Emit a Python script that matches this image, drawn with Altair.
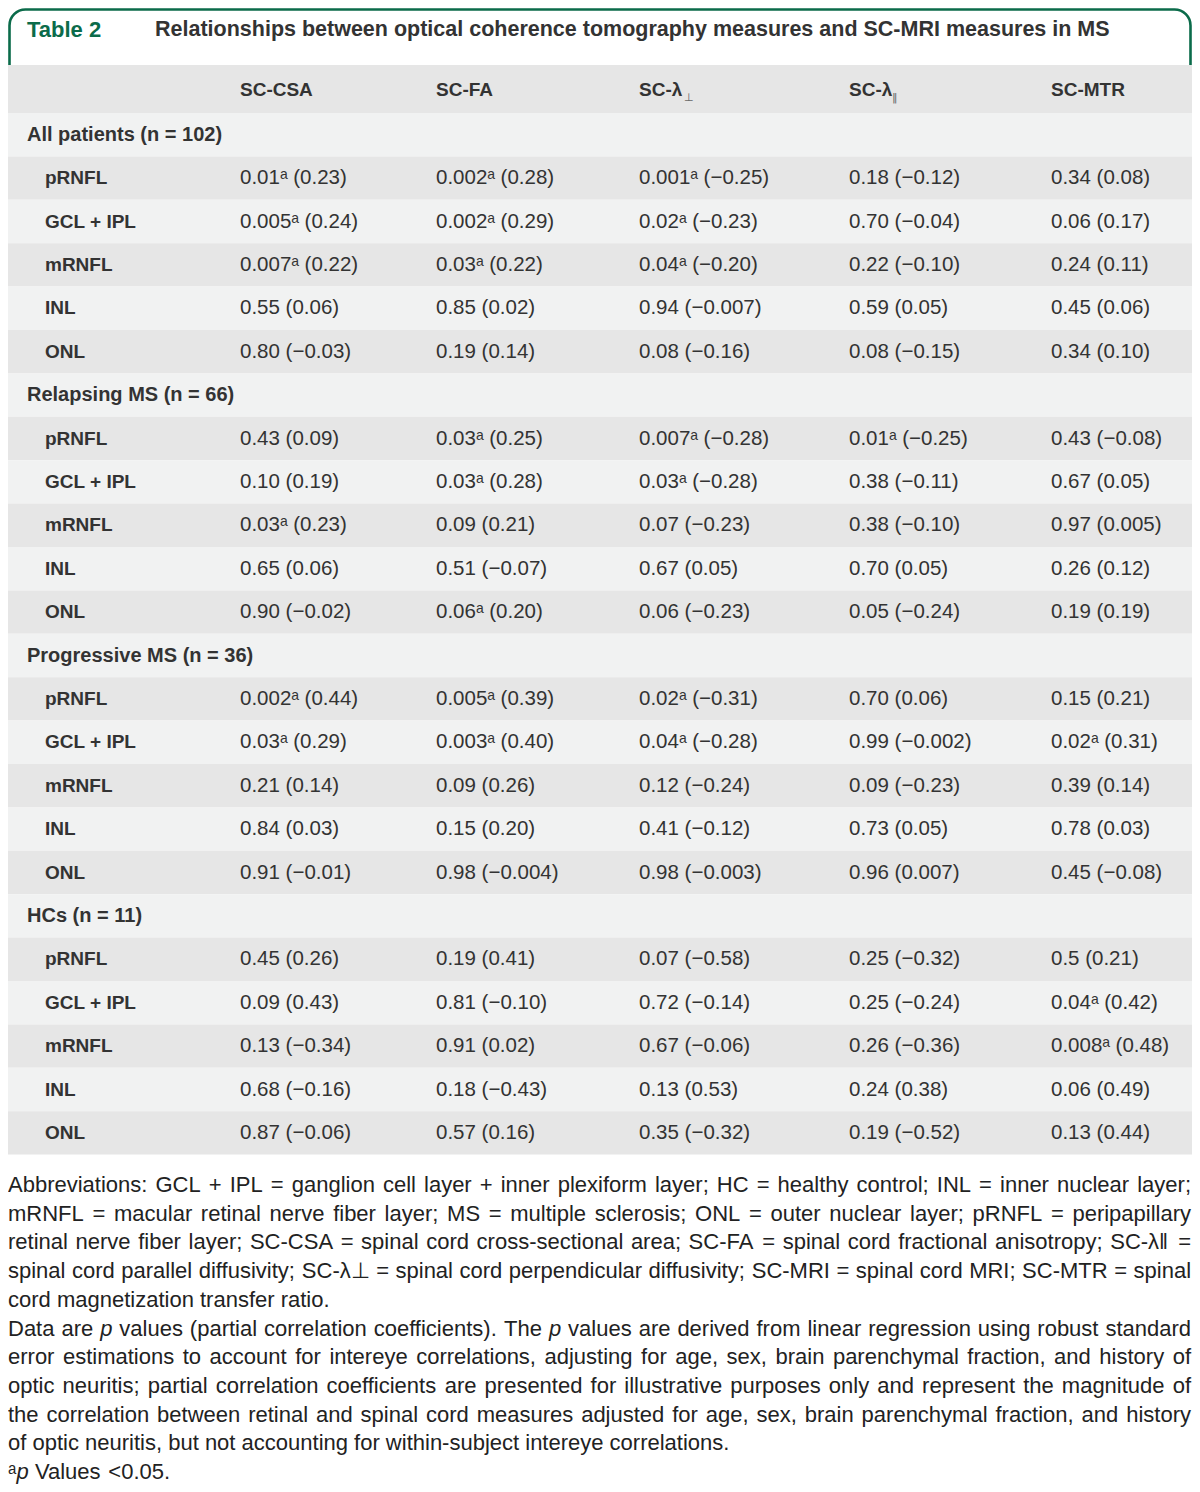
import re
import altair as alt
import pandas as pd

# ---------------- data ----------------
title_tag = "Table 2"
title_text = "Relationships between optical coherence tomography measures and SC-MRI measures in MS"

col_heads = ["SC-CSA", "SC-FA", "SC-λ", "SC-λ", "SC-MTR"]
col_subs = ["", "", "⊥", "‖", ""]

groups = ["All patients (n = 102)", "Relapsing MS (n = 66)",
          "Progressive MS (n = 36)", "HCs (n = 11)"]
measures = ["pRNFL", "GCL + IPL", "mRNFL", "INL", "ONL"]

sc_csa = ["0.01ᵃ (0.23)", "0.005ᵃ (0.24)", "0.007ᵃ (0.22)", "0.55 (0.06)", "0.80 (−0.03)",
          "0.43 (0.09)", "0.10 (0.19)", "0.03ᵃ (0.23)", "0.65 (0.06)", "0.90 (−0.02)",
          "0.002ᵃ (0.44)", "0.03ᵃ (0.29)", "0.21 (0.14)", "0.84 (0.03)", "0.91 (−0.01)",
          "0.45 (0.26)", "0.09 (0.43)", "0.13 (−0.34)", "0.68 (−0.16)", "0.87 (−0.06)"]
sc_fa = ["0.002ᵃ (0.28)", "0.002ᵃ (0.29)", "0.03ᵃ (0.22)", "0.85 (0.02)", "0.19 (0.14)",
         "0.03ᵃ (0.25)", "0.03ᵃ (0.28)", "0.09 (0.21)", "0.51 (−0.07)", "0.06ᵃ (0.20)",
         "0.005ᵃ (0.39)", "0.003ᵃ (0.40)", "0.09 (0.26)", "0.15 (0.20)", "0.98 (−0.004)",
         "0.19 (0.41)", "0.81 (−0.10)", "0.91 (0.02)", "0.18 (−0.43)", "0.57 (0.16)"]
sc_lperp = ["0.001ᵃ (−0.25)", "0.02ᵃ (−0.23)", "0.04ᵃ (−0.20)", "0.94 (−0.007)", "0.08 (−0.16)",
            "0.007ᵃ (−0.28)", "0.03ᵃ (−0.28)", "0.07 (−0.23)", "0.67 (0.05)", "0.06 (−0.23)",
            "0.02ᵃ (−0.31)", "0.04ᵃ (−0.28)", "0.12 (−0.24)", "0.41 (−0.12)", "0.98 (−0.003)",
            "0.07 (−0.58)", "0.72 (−0.14)", "0.67 (−0.06)", "0.13 (0.53)", "0.35 (−0.32)"]
sc_lpar = ["0.18 (−0.12)", "0.70 (−0.04)", "0.22 (−0.10)", "0.59 (0.05)", "0.08 (−0.15)",
           "0.01ᵃ (−0.25)", "0.38 (−0.11)", "0.38 (−0.10)", "0.70 (0.05)", "0.05 (−0.24)",
           "0.70 (0.06)", "0.99 (−0.002)", "0.09 (−0.23)", "0.73 (0.05)", "0.96 (0.007)",
           "0.25 (−0.32)", "0.25 (−0.24)", "0.26 (−0.36)", "0.24 (0.38)", "0.19 (−0.52)"]
sc_mtr = ["0.34 (0.08)", "0.06 (0.17)", "0.24 (0.11)", "0.45 (0.06)", "0.34 (0.10)",
          "0.43 (−0.08)", "0.67 (0.05)", "0.97 (0.005)", "0.26 (0.12)", "0.19 (0.19)",
          "0.15 (0.21)", "0.02ᵃ (0.31)", "0.39 (0.14)", "0.78 (0.03)", "0.45 (−0.08)",
          "0.5 (0.21)", "0.04ᵃ (0.42)", "0.008ᵃ (0.48)", "0.06 (0.49)", "0.13 (0.44)"]
value_cols = [sc_csa, sc_fa, sc_lperp, sc_lpar, sc_mtr]

# *...* marks italic text; justify flag as in the printed note
footnotes = [
    "Abbreviations: GCL + IPL = ganglion cell layer + inner plexiform layer; HC = healthy control; INL = inner nuclear layer;",
    "mRNFL = macular retinal nerve fiber layer; MS = multiple sclerosis; ONL = outer nuclear layer; pRNFL = peripapillary",
    "retinal nerve fiber layer; SC-CSA = spinal cord cross-sectional area; SC-FA = spinal cord fractional anisotropy; SC-λ‖ =",
    "spinal cord parallel diffusivity; SC-λ⊥ = spinal cord perpendicular diffusivity; SC-MRI = spinal cord MRI; SC-MTR = spinal",
    "cord magnetization transfer ratio.",
    "Data are *p* values (partial correlation coefficients). The *p* values are derived from linear regression using robust standard",
    "error estimations to account for intereye correlations, adjusting for age, sex, brain parenchymal fraction, and history of",
    "optic neuritis; partial correlation coefficients are presented for illustrative purposes only and represent the magnitude of",
    "the correlation between retinal and spinal cord measures adjusted for age, sex, brain parenchymal fraction, and history",
    "of optic neuritis, but not accounting for within-subject intereye correlations.",
    "ᵃ*p* Values <0.05.",
]
foot_justify = [True, True, True, True, False, True, True, True, True, False, False]

# ---------------- layout (page pixel space; page margin is 8px) ----------------
MARGIN = 8
W, H = 1184, 1476
GREEN = "#0b6b4a"
TXT = "#333333"
DARK = "#e6e6e6"
LIGHT = "#f1f2f2"
FONT = "Liberation Sans"

LEFT, RIGHT = MARGIN, MARGIN + W
HEAD_TOP, BODY_TOP, ROW_H = 65, 113, 43.4
col_x = [240, 436, 639, 849, 1051]
FOOT_Y0, FOOT_DY, FOOT_SIZE = 1185, 28.7, 22

# Liberation Sans (Arial-metric) advance widths, per 1000 em
_AW = {" ": 278, "!": 278, "(": 333, ")": 333, "+": 584, ",": 278, "-": 333, ".": 278,
       "/": 278, ":": 278, ";": 278, "<": 584, "=": 584, ">": 584,
       "A": 667, "B": 667, "C": 722, "D": 722, "E": 667, "F": 611, "G": 778, "H": 722,
       "I": 278, "J": 500, "K": 667, "L": 556, "M": 833, "N": 722, "O": 778, "P": 667,
       "Q": 778, "R": 722, "S": 667, "T": 611, "U": 722, "V": 667, "W": 944, "X": 667,
       "Y": 667, "Z": 611, "a": 556, "b": 556, "c": 500, "d": 556, "e": 556, "f": 278,
       "g": 556, "h": 556, "i": 222, "j": 222, "k": 500, "l": 222, "m": 833, "n": 556,
       "o": 556, "p": 556, "q": 556, "r": 333, "s": 500, "t": 278, "u": 556, "v": 500,
       "w": 722, "x": 500, "y": 500, "z": 500, "λ": 520, "‖": 500, "⊥": 838, "ᵃ": 390}


def text_w(s, size):
    return sum(_AW.get(ch, 556) for ch in s) / 1000.0 * size


# data coordinates are page pixels; the chart origin sits at the page margin
xs = alt.Scale(domain=[MARGIN, MARGIN + W], range=[0, W], nice=False, zero=False)
ys = alt.Scale(domain=[MARGIN, MARGIN + H], range=[0, H], nice=False, zero=False)


def X(f):
    return alt.X(f, type="quantitative", scale=xs, axis=None)


def Y(f):
    return alt.Y(f, type="quantitative", scale=ys, axis=None)


# body rows
rows = []
cells = []
i = 0
for g, grp in enumerate(groups):
    top = BODY_TOP + i * ROW_H
    rows.append(dict(x=LEFT, x2=RIGHT, y=top, y2=top + ROW_H,
                     fill=DARK if i % 2 else LIGHT))
    cells.append(dict(x=27, y=top + ROW_H / 2, text=grp, kind="group"))
    i += 1
    for m, meas in enumerate(measures):
        top = BODY_TOP + i * ROW_H
        rows.append(dict(x=LEFT, x2=RIGHT, y=top, y2=top + ROW_H,
                         fill=DARK if i % 2 else LIGHT))
        cells.append(dict(x=45, y=top + ROW_H / 2, text=meas, kind="label"))
        for c, vals in enumerate(value_cols):
            cells.append(dict(x=col_x[c], y=top + ROW_H / 2,
                              text=vals[g * 5 + m], kind="value"))
        i += 1
rows.append(dict(x=LEFT, x2=RIGHT, y=HEAD_TOP, y2=BODY_TOP, fill=DARK))
rows_df = pd.DataFrame(rows)
cells_df = pd.DataFrame(cells)

head_df = pd.DataFrame(dict(x=col_x, y=[90] * 5, text=col_heads))
sub_df = pd.DataFrame(dict(x=[col_x[2] + 45, col_x[3] + 43], y=[98, 98],
                           text=[col_subs[2], col_subs[3]]))

title_df = pd.DataFrame(dict(x=[27, 155], y=[30, 30], text=[title_tag, title_text],
                             color=[GREEN, TXT], size=[22, 21.5]))

# footnote typesetting: word by word, justified lines spread to the right edge
foot_rows = []
for k, (line, just) in enumerate(zip(footnotes, foot_justify)):
    y = FOOT_Y0 + k * FOOT_DY
    words = line.split(" ")
    segs = []
    for w in words:
        parts = [p for p in re.split(r"(\*[^*]+\*)", w) if p]
        segs.append([(p.strip("*"), p.startswith("*")) for p in parts])
    widths = [sum(text_w(t, FOOT_SIZE) for t, _ in s) for s in segs]
    space = text_w(" ", FOOT_SIZE)
    if just and len(words) > 1:
        gap = (RIGHT - 1 - LEFT - sum(widths)) / (len(words) - 1)
    else:
        gap = space
    x = LEFT
    for s, wd in zip(segs, widths):
        xx = x
        for t, it in s:
            foot_rows.append(dict(x=xx, y=y, text=t, italic=int(it)))
            xx += text_w(t, FOOT_SIZE)
        x += wd + gap
foot_df = pd.DataFrame(foot_rows)

tab_df = pd.DataFrame([dict(x=LEFT + 1.5, x2=RIGHT - 1.5, y=MARGIN + 1.5, y2=110)])

# ---------------- layers ----------------
tab = alt.Chart(tab_df).mark_rect(
    fill="white", stroke=GREEN, strokeWidth=2.6, cornerRadius=16
).encode(x=X("x"), x2="x2", y=Y("y"), y2="y2")

bands = alt.Chart(rows_df).mark_rect().encode(
    x=X("x"), x2="x2", y=Y("y"), y2="y2",
    color=alt.Color("fill:N", scale=None))

titles = alt.Chart(title_df).mark_text(
    align="left", baseline="middle", font=FONT, fontWeight="bold"
).encode(x=X("x"), y=Y("y"), text="text:N",
         color=alt.Color("color:N", scale=None),
         size=alt.Size("size:Q", scale=None))

heads = alt.Chart(head_df).mark_text(
    align="left", baseline="middle", font=FONT, fontSize=19, fontWeight="bold", color=TXT
).encode(x=X("x"), y=Y("y"), text="text:N")

subs = alt.Chart(sub_df).mark_text(
    align="left", baseline="middle", font="DejaVu Sans", fontSize=11, color="#666666"
).encode(x=X("x"), y=Y("y"), text="text:N")

group_lbl = alt.Chart(cells_df).transform_filter("datum.kind == 'group'").mark_text(
    align="left", baseline="middle", font=FONT, fontSize=20, fontWeight="bold", color=TXT
).encode(x=X("x"), y=Y("y"), text="text:N")

labels = alt.Chart(cells_df).transform_filter("datum.kind == 'label'").mark_text(
    align="left", baseline="middle", font=FONT, fontSize=19, fontWeight="bold", color=TXT
).encode(x=X("x"), y=Y("y"), text="text:N")

values = alt.Chart(cells_df).transform_filter("datum.kind == 'value'").mark_text(
    align="left", baseline="middle", font=FONT, fontSize=20.5, color=TXT
).encode(x=X("x"), y=Y("y"), text="text:N")

foot = alt.Chart(foot_df).transform_filter("datum.italic == 0").mark_text(
    align="left", baseline="middle", font=FONT, fontSize=FOOT_SIZE, color="#222222"
).encode(x=X("x"), y=Y("y"), text="text:N")

foot_it = alt.Chart(foot_df).transform_filter("datum.italic == 1").mark_text(
    align="left", baseline="middle", font=FONT, fontSize=FOOT_SIZE, fontStyle="italic",
    color="#222222"
).encode(x=X("x"), y=Y("y"), text="text:N")

chart = alt.layer(tab, bands, titles, heads, subs, group_lbl, labels, values,
                  foot, foot_it).properties(
    width=W, height=H, padding=0, autosize=alt.AutoSizeParams(type="none"),
    background="white"
).configure_view(stroke=None)

chart.save("out.html", embed_options={"renderer": "svg", "actions": False})
